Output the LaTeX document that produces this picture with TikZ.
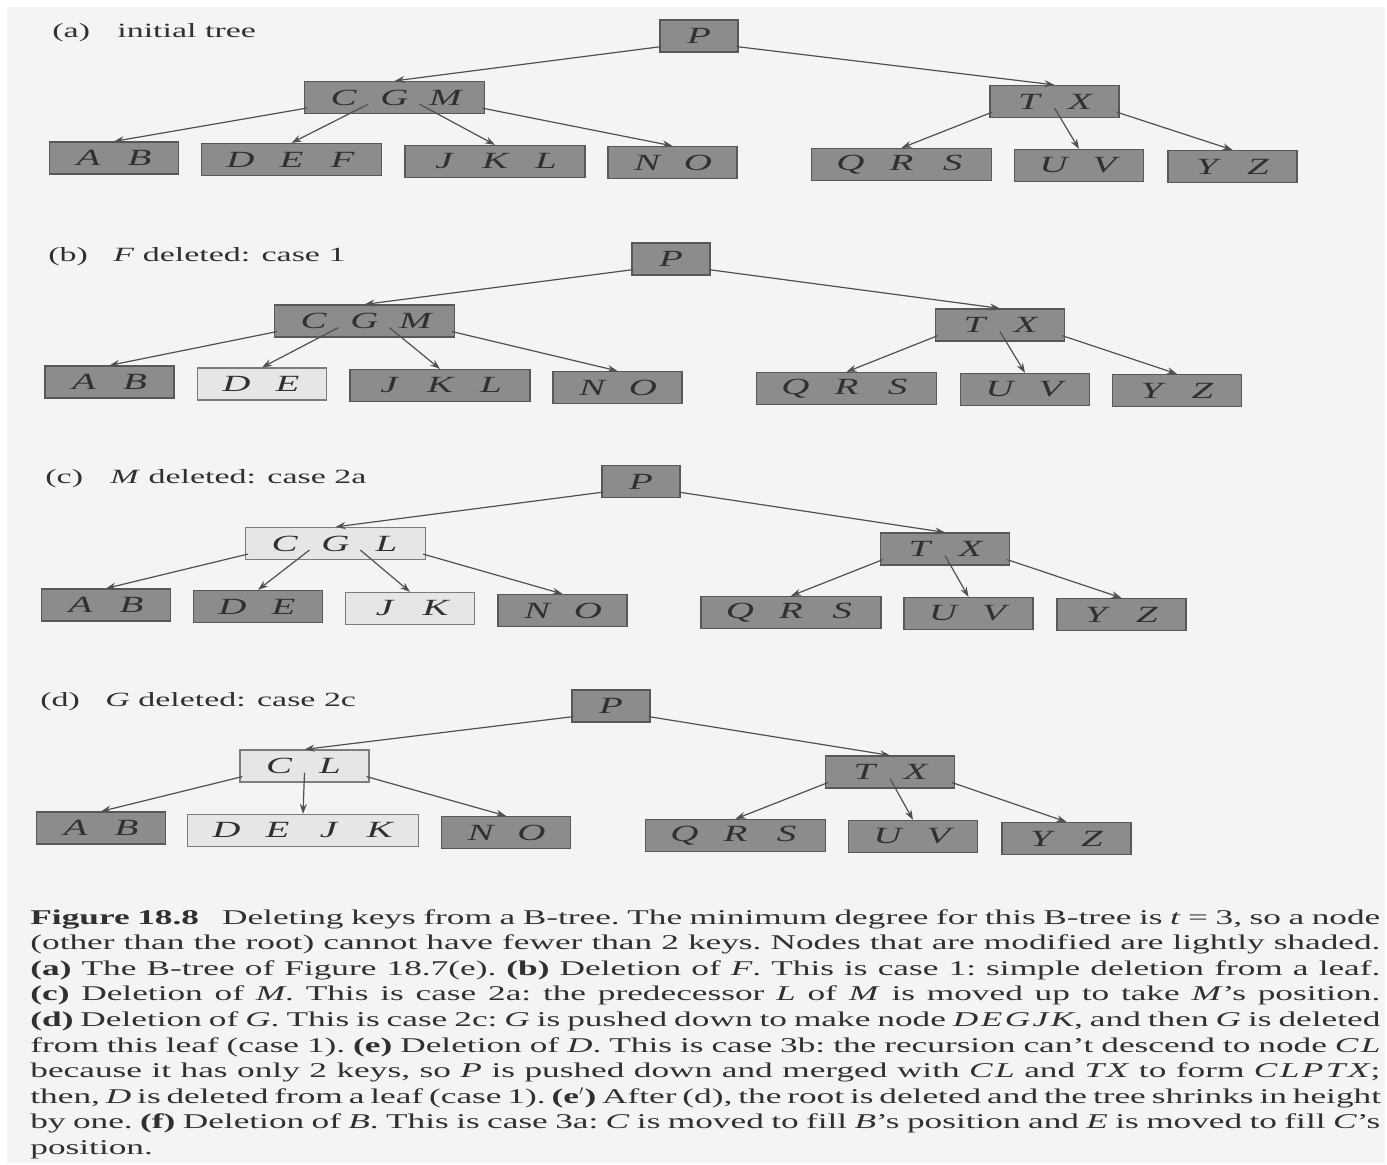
\documentclass[tikz,border=0pt]{standalone}
\usepackage{fontspec}
\setmainfont{Liberation Serif}[FakeStretch=1.68]
\usetikzlibrary{arrows.meta,calc}
\definecolor{paper}{HTML}{F4F4F4}
\definecolor{darkfill}{HTML}{8C8C8C}
\definecolor{darkedge}{HTML}{585858}
\definecolor{lightfill}{HTML}{E6E6E6}
\definecolor{lightedge}{HTML}{7C7C7C}
\definecolor{ink}{HTML}{303030}
\definecolor{wire}{HTML}{505050}
% one key slot inside a B-tree node
\newcommand\K[1]{\makebox[25.5pt]{#1}}
% one full-width line of the caption, spaces spread to the measure
\newcommand\Ln[1]{\hbox to 675pt{#1}}

\begin{document}
\begin{tikzpicture}[x=0.5pt,y=-0.5pt,
  keynode/.style={rectangle, inner xsep=6.75pt, inner ysep=0pt, minimum height=16pt,
    line width=0.6pt, text=ink, font=\itshape\fontsize{11.6}{12}\selectfont},
  dk/.style={keynode, fill=darkfill, draw=darkedge},
  lt/.style={keynode, fill=lightfill, draw=lightedge},
  ptr/.style={draw=wire, line width=0.6pt, -{Stealth[length=5pt,width=3.5pt]}},
  lab/.style={anchor=west, text=ink, font=\fontsize{10.1}{12}\selectfont, inner sep=0pt}]

\useasboundingbox (0,0) rectangle (1387,1165);
\fill[white] (0,0) rectangle (1387,1165);
\fill[paper] (7,7) rectangle (1385,1163);

% ---------------- (a) initial tree ----------------
\node[lab] (la) at (52,33) {\makebox[32.5pt][l]{(a)}initial tree};
\node[dk] (aP)   at (699,36)    {\K{P}};
\node[dk] (aCGM) at (394.5,97.5){\K{C}\K{G}\K{M}};
\node[dk] (aAB)  at (114,158)   {\K{A}\K{B}};
\node[dk] (aDEF) at (291.5,159.5){\K{D}\K{E}\K{F}};
\node[dk] (aJKL) at (495,161.5) {\K{J}\K{K}\K{L}};
\node[dk] (aNO)  at (672.5,162.5){\K{N}\K{O}};
\node[dk] (aTX)  at (1054.5,101.5){\K{T}\K{X}};
\node[dk] (aQRS) at (901.5,164.5){\K{Q}\K{R}\K{S}};
\node[dk] (aUV)  at (1079,165.5){\K{U}\K{V}};
\node[dk] (aYZ)  at (1232.5,166.5){\K{Y}\K{Z}};

\draw[ptr] ($(aP.south west)+(2,-6)$) -- (aCGM.north);
\draw[ptr] ($(aP.south east)+(-2,-6)$) -- (aTX.north);
\draw[ptr] ($(aCGM.south west)+(3,-6)$) -- (aAB.north);
\draw[ptr] ($(aCGM.south west)+(64.5,-10)$) -- (aDEF.north);
\draw[ptr] ($(aCGM.south west)+(115.5,-10)$) -- (aJKL.north);
\draw[ptr] ($(aCGM.south east)+(-3,-6)$) -- (aNO.north);
\draw[ptr] ($(aTX.south west)+(3,-6)$) -- (aQRS.north);
\draw[ptr] ($(aTX.south)+(0,-10)$) -- (aUV.north);
\draw[ptr] ($(aTX.south east)+(-3,-6)$) -- (aYZ.north);

% ---------------- (b) F deleted ----------------
\node[lab] (lb) at (48,257) {\makebox[32.5pt][l]{(b)}\textit{F} deleted: case 1};
\node[dk] (bP)   at (671,259)   {\K{P}};
\node[dk] (bCGM) at (364.5,321) {\K{C}\K{G}\K{M}};
\node[dk] (bAB)  at (109.5,382) {\K{A}\K{B}};
\node[lt] (bDE)  at (262,384)   {\K{D}\K{E}};
\node[dk] (bJKL) at (440,385.5) {\K{J}\K{K}\K{L}};
\node[dk] (bNO)  at (617.5,387.5){\K{N}\K{O}};
\node[dk] (bTX)  at (1000,325)  {\K{T}\K{X}};
\node[dk] (bQRS) at (846.5,388.5){\K{Q}\K{R}\K{S}};
\node[dk] (bUV)  at (1025,389.5){\K{U}\K{V}};
\node[dk] (bYZ)  at (1177,390.5){\K{Y}\K{Z}};

\draw[ptr] ($(bP.south west)+(2,-6)$) -- (bCGM.north);
\draw[ptr] ($(bP.south east)+(-2,-6)$) -- (bTX.north);
\draw[ptr] ($(bCGM.south west)+(3,-6)$) -- (bAB.north);
\draw[ptr] ($(bCGM.south west)+(64.5,-10)$) -- (bDE.north);
\draw[ptr] ($(bCGM.south west)+(115.5,-10)$) -- (bJKL.north);
\draw[ptr] ($(bCGM.south east)+(-3,-6)$) -- (bNO.north);
\draw[ptr] ($(bTX.south west)+(3,-6)$) -- (bQRS.north);
\draw[ptr] ($(bTX.south)+(0,-10)$) -- (bUV.north);
\draw[ptr] ($(bTX.south east)+(-3,-6)$) -- (bYZ.north);

% ---------------- (c) M deleted ----------------
\node[lab] (lc) at (45,479) {\makebox[32.5pt][l]{(c)}\textit{M} deleted: case 2a};
\node[dk] (cP)   at (641,481.5) {\K{P}};
\node[lt] (cCGL) at (335.5,543.5){\K{C}\K{G}\K{L}};
\node[dk] (cAB)  at (106,605)   {\K{A}\K{B}};
\node[dk] (cDE)  at (258,606.5) {\K{D}\K{E}};
\node[lt] (cJK)  at (410,608.5) {\K{J}\K{K}};
\node[dk] (cNO)  at (562.5,610.5){\K{N}\K{O}};
\node[dk] (cTX)  at (945,549)   {\K{T}\K{X}};
\node[dk] (cQRS) at (791,612.5) {\K{Q}\K{R}\K{S}};
\node[dk] (cUV)  at (968.5,613.5){\K{U}\K{V}};
\node[dk] (cYZ)  at (1121.5,614.5){\K{Y}\K{Z}};

\draw[ptr] ($(cP.south west)+(2,-6)$) -- (cCGL.north);
\draw[ptr] ($(cP.south east)+(-2,-6)$) -- (cTX.north);
\draw[ptr] ($(cCGL.south west)+(3,-6)$) -- (cAB.north);
\draw[ptr] ($(cCGL.south west)+(64.5,-10)$) -- (cDE.north);
\draw[ptr] ($(cCGL.south west)+(115.5,-10)$) -- (cJK.north);
\draw[ptr] ($(cCGL.south east)+(-3,-6)$) -- (cNO.north);
\draw[ptr] ($(cTX.south west)+(3,-6)$) -- (cQRS.north);
\draw[ptr] ($(cTX.south)+(0,-10)$) -- (cUV.north);
\draw[ptr] ($(cTX.south east)+(-3,-6)$) -- (cYZ.north);

% ---------------- (d) G deleted ----------------
\node[lab] (ld) at (40,702) {\makebox[32.5pt][l]{(d)}\textit{G} deleted: case 2c};
\node[dk] (dP)    at (611,706)   {\K{P}};
\node[lt] (dCL)   at (304.5,766) {\K{C}\K{L}};
\node[dk] (dAB)   at (101,828)   {\K{A}\K{B}};
\node[lt] (dDEJK) at (303,830.5) {\K{D}\K{E}\K{J}\K{K}};
\node[dk] (dNO)   at (506,832.5) {\K{N}\K{O}};
\node[dk] (dTX)   at (890,772)   {\K{T}\K{X}};
\node[dk] (dQRS)  at (735.5,835.5){\K{Q}\K{R}\K{S}};
\node[dk] (dUV)   at (913,836.5) {\K{U}\K{V}};
\node[dk] (dYZ)   at (1066.5,838.5){\K{Y}\K{Z}};

\draw[ptr] ($(dP.south west)+(2,-6)$) -- (dCL.north);
\draw[ptr] ($(dP.south east)+(-2,-6)$) -- (dTX.north);
\draw[ptr] ($(dCL.south west)+(3,-6)$) -- (dAB.north);
\draw[ptr] ($(dCL.south)+(0,-10)$) -- (dDEJK.north);
\draw[ptr] ($(dCL.south east)+(-3,-6)$) -- (dNO.north);
\draw[ptr] ($(dTX.south west)+(3,-6)$) -- (dQRS.north);
\draw[ptr] ($(dTX.south)+(0,-10)$) -- (dUV.north);
\draw[ptr] ($(dTX.south east)+(-3,-6)$) -- (dYZ.north);

% ---------------- caption ----------------
\node[anchor=north west, inner sep=0pt, text width=675pt, text=ink,
      font=\fontsize{10.5}{12.8}\selectfont] (cap) at (30,909) {%
\spaceskip=0pt \xspaceskip=0pt \frenchspacing
\Ln{\textbf{Figure 18.8}\hspace{1.1em}Deleting keys from a B-tree. The minimum degree for this B-tree is \textit{t}~=~3, so a node}
\Ln{(other than the root) cannot have fewer than 2 keys. Nodes that are modified are lightly shaded.}
\Ln{\textbf{(a)} The B-tree of Figure 18.7(e). \textbf{(b)} Deletion of \textit{F}. This is case 1: simple deletion from a leaf.}
\Ln{\textbf{(c)} Deletion of \textit{M}. This is case 2a: the predecessor \textit{L} of \textit{M} is moved up to take \textit{M}'s position.}
\Ln{\textbf{(d)} Deletion of \textit{G}. This is case 2c: \textit{G} is pushed down to make node \textit{D\kern1.2pt E\kern1.2pt G\kern1.2pt J\kern1.2pt K}, and then \textit{G} is deleted}
\Ln{from this leaf (case 1). \textbf{(e)} Deletion of \textit{D}. This is case 3b: the recursion can't descend to node \textit{C\kern1.2pt L}}
\Ln{because it has only 2 keys, so \textit{P} is pushed down and merged with \textit{C\kern1.2pt L} and \textit{T\kern1.2pt X} to form \textit{C\kern1.2pt L\kern1.2pt P\kern1.2pt T\kern1.2pt X};}
\Ln{then, \textit{D} is deleted from a leaf (case 1). \textbf{(e$'$)} After (d), the root is deleted and the tree shrinks in height}
\Ln{by one. \textbf{(f)} Deletion of \textit{B}. This is case 3a: \textit{C} is moved to fill \textit{B}'s position and \textit{E} is moved to fill \textit{C}'s}
\hbox{position.}};
\end{tikzpicture}
\end{document}
